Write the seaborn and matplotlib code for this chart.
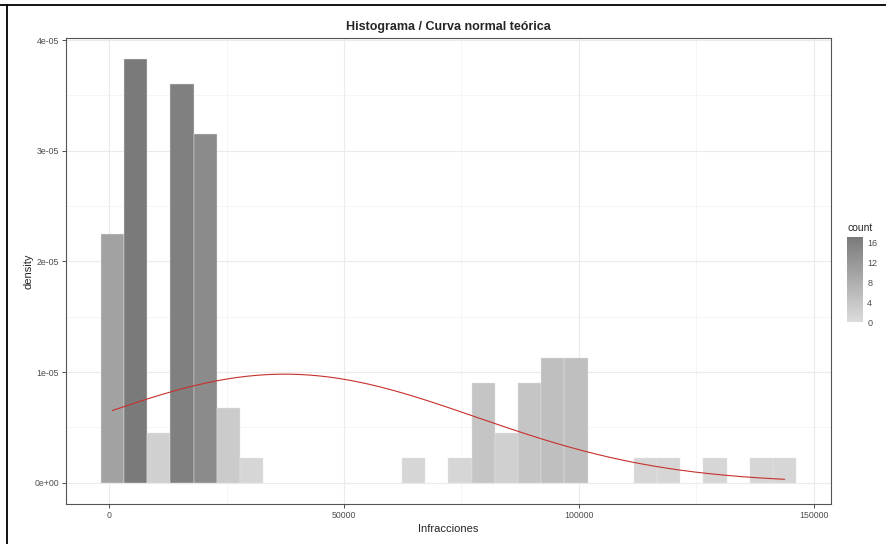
import numpy as np
import pandas as pd
import matplotlib
matplotlib.use("Agg")
import matplotlib.pyplot as plt
from matplotlib.colors import LinearSegmentedColormap, Normalize
from matplotlib.lines import Line2D
import seaborn as sns

# histogram: 30 bins between min and max of Infracciones
data_min = 700
data_max = 143800
n_bins = 30
bin_counts = [10, 17, 2, 16, 14, 3, 1, 0, 0, 0,
              0, 0, 0, 1, 0, 1, 4, 2, 4, 5,
              5, 0, 0, 1, 1, 0, 1, 0, 1, 1]

y_ticks = [0, 1e-05, 2e-05, 3e-05, 4e-05]
y_labels = ["0e+00", "1e-05", "2e-05", "3e-05", "4e-05"]
x_ticks = [0, 50000, 100000, 150000]
x_labels = ["0", "50000", "100000", "150000"]
legend_ticks = [0, 4, 8, 12, 16]

# ggplot style bins: first bin centred on the minimum
width = (data_max - data_min) / (n_bins - 1)
edges = data_min - width / 2 + width * np.arange(n_bins + 1)
centers = (edges[:-1] + edges[1:]) / 2
df = pd.DataFrame({"Infracciones": centers, "count": bin_counts})

mean = np.average(centers, weights=bin_counts)
sd = np.sqrt(np.sum(np.array(bin_counts) * (centers - mean) ** 2) / (sum(bin_counts) - 1))
curve_x = np.linspace(data_min, data_max, 200)
curve_y = np.exp(-0.5 * ((curve_x - mean) / sd) ** 2) / (sd * np.sqrt(2 * np.pi))

sns.set_style("white")
plt.rcParams['font.family'] = ['Liberation Sans', 'DejaVu Sans']

fig = plt.figure(figsize=(8.86, 5.44), dpi=100)
ax = fig.add_axes([66 / 886, 1 - 504 / 544, 765 / 886, 466 / 544])

cmap = LinearSegmentedColormap.from_list("greys", ["#dcdcdc", "#7a7a7a"])
norm = Normalize(vmin=0, vmax=max(bin_counts))

# minor / major grid like theme_bw
for v in [25000, 75000, 125000]:
    ax.axvline(v, color="#f2f2f2", lw=0.5, zorder=0)
for v in [0.5e-05, 1.5e-05, 2.5e-05, 3.5e-05]:
    ax.axhline(v, color="#f2f2f2", lw=0.5, zorder=0)
for v in x_ticks:
    ax.axvline(v, color="#ebebeb", lw=0.8, zorder=0)
for v in y_ticks:
    ax.axhline(v, color="#ebebeb", lw=0.8, zorder=0)

sns.histplot(data=df, x="Infracciones", weights="count", bins=list(edges),
             stat="density", ax=ax, edgecolor="#e6e6e6", linewidth=0.3,
             alpha=1, zorder=2)
for patch, c in zip(ax.patches, bin_counts):
    patch.set_facecolor(cmap(norm(c)))
    if c == 0:
        patch.set_linewidth(0)

sns.lineplot(x=curve_x, y=curve_y, ax=ax, color="#c6302c", lw=0.8, zorder=3)

span = edges[-1] - edges[0]
ax.set_xlim(edges[0] - 0.05 * span, edges[-1] + 0.05 * span)
ymax = max(bin_counts) / (sum(bin_counts) * width)
ax.set_ylim(-0.05 * ymax, 1.05 * ymax)
ax.set_xticks(x_ticks)
ax.set_xticklabels(x_labels)
ax.set_yticks(y_ticks)
ax.set_yticklabels(y_labels)
ax.grid(False)
ax.tick_params(axis="both", length=3, width=0.6, color="#333333",
               labelsize=6.3, labelcolor="#4d4d4d", pad=2, left=True, bottom=True)
for s in ax.spines.values():
    s.set_color("#555555")
    s.set_linewidth(0.8)
ax.set_xlabel("Infracciones", fontsize=8, labelpad=3)
ax.set_ylabel("density", fontsize=8, labelpad=1)
ax.set_title("Histograma / Curva normal teórica", fontsize=9, fontweight="bold", pad=6)

# colour bar legend
cax = fig.add_axes([847 / 886, 1 - 322 / 544, 16 / 886, 85 / 544])
sm = plt.cm.ScalarMappable(cmap=cmap, norm=norm)
cb = fig.colorbar(sm, cax=cax, ticks=legend_ticks)
cb.outline.set_visible(False)
cax.tick_params(direction="in", length=3, width=0.6, color="white",
                labelsize=6.5, labelcolor="#4d4d4d", left=True, right=True, pad=3)
cax.set_title("count", fontsize=7.5, loc="left", pad=4)

# screenshot frame
fig.add_artist(Line2D([0, 1], [1 - 5 / 544] * 2, color="black", lw=1.3, transform=fig.transFigure))
fig.add_artist(Line2D([7 / 886] * 2, [0, 1 - 5 / 544], color="black", lw=1.3, transform=fig.transFigure))

fig.savefig("out.png", dpi=100)
